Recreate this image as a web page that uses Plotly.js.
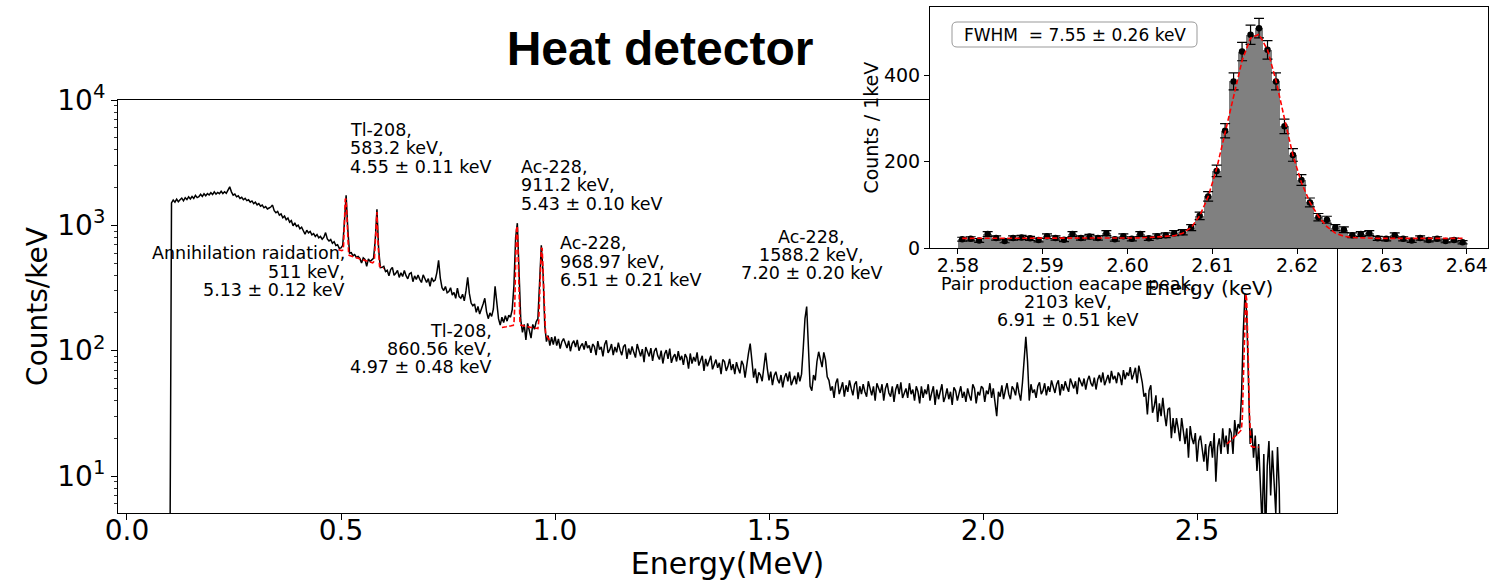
<!DOCTYPE html>
<html><head><meta charset="utf-8">
<script src="https://cdn.plot.ly/plotly-3.0.1.min.js"></script>
<style>html,body{margin:0;padding:0;background:#fff;}#chart{width:1496px;height:581px;}</style>
</head><body><div id="chart"></div>
<script>
// ---------------- DATA ----------------
// Main spectrum: counts/keV in 4 keV steps, starting at 0.100 MeV
const specStartMeV = 0.100, specStepMeV = 0.004;
const spec100to596 = [
1,1510,1590,1530,1620,1545,1600,1650,1570,1660,
1605,1690,1625,1700,1640,1735,1665,1690,1770,1700,
1785,1720,1790,1745,1820,1760,1850,1775,1830,1790,
1870,1795,1855,1800,1910,2030,1850,1740,1775,1690,
1720,1640,1675,1600,1640,1575,1600,1530,1565,1490,
1530,1455,1490,1420,1450,1380,1410,1350,1375,1400,
1450,1310,1260,1290,1205,1235,1150,1185,1110,1145,
1060,1090,990,1045,980,1005,940,965,905,850,
915,870,895,840,860,815,845,795,815,775,
805,875,780,750,770,720,740,690,700,655,
660,690,1060,1740,920,600,605,570,585,555,
565,545,500,550,535,470,540,515,530,545,
760,1343,640,460,462];
const spec600to1096 = [
471,428,438,396,444,462,400,414,437,384,
418,391,436,397,374,411,419,355,395,370,
401,371,350,403,375,350,376,326,382,357,
366,420,525,380,318,302,325,290,296,318,
278,292,262,315,270,262,282,250,300,384,
285,240,228,236,202,225,196,212,236,262,
205,180,200,188,215,326,245,180,160,185,
168,190,172,192,185,212,330,800,1040,452,
176,140,162,122,165,145,126,162,148,170,
180,352,692,422,160,118,132,110,128,112,
130,110,124,104,118,125,112,105,120,99,
114,120,107,122,100,109,114,102,119,105,
110,96,113,108,92];
const spec1100to1596 = [
119,102,107,90,112,121,96,102,113,92,
107,97,116,101,92,108,112,86,104,93,
108,97,88,113,99,90,103,81,107,97,
90,105,83,99,105,91,85,100,79,94,
101,86,104,80,89,94,82,99,84,91,
77,94,88,72,95,79,89,82,97,76,
83,91,69,86,75,82,91,71,77,85,
73,80,65,85,82,69,75,86,70,78,
65,81,72,66,83,77,61,80,95,114,
80,61,72,55,67,64,57,78,96,72,
58,68,53,63,68,59,55,64,51,61,
66,57,68,53,58,63,54,67,57,65,
105,180,225,118,52];
const spec1600to2096 = [
48,64,58,82,98,84,74,97,84,62,
58,48,52,42,55,60,45,50,56,43,
53,47,58,50,44,54,57,41,52,45,
54,47,43,57,49,44,52,40,55,49,
46,54,40,50,55,46,43,52,39,49,
54,45,56,42,47,50,42,55,45,49,
40,52,47,38,52,42,49,45,54,40,
46,52,37,49,41,46,54,39,43,50,
41,47,37,51,48,40,45,52,42,47,
39,50,44,40,54,50,38,47,44,52,
50,39,48,45,55,42,50,39,30,47,
43,53,41,48,55,45,41,52,49,44,
56,46,40,55,80];
const spec2100to2696 = [
129,82,40,54,46,49,42,52,56,45,
48,55,44,52,47,58,50,46,54,58,
44,54,48,57,51,47,60,55,50,57,
45,61,55,52,60,49,58,63,55,52,
61,49,59,64,56,67,53,59,64,55,
69,59,63,55,67,63,53,70,59,67,
63,74,59,65,73,55,76,66,56,43,
46,31,48,53,32,36,44,27,38,30,
42,31,25,34,35,20,29,22,29,24,
19,29,23,18,24,14,25,20,18,22,
13,19,21,16,13,18,11,17,19,14,
22,9,17,20,15,24,17,21,15,24,
22,15,28,21,26,24,45,140,286,200,
60,18,24,14,21,11,18,9,4,15,
3,12,19,7,16,9,5,17,8,1];

// Red fit curves on the main spectrum (2 keV steps)
const fit511StartMeV = 0.494, fit911StartMeV = 0.876, fit2614StartMeV = 2.570, fitStepMeV = 0.002;
const fit511and583 = [
640,636,633,630,628,635,690,1050,1630,1610,
1000,650,582,575,572,569,566,563,560,557,
554,551,548,545,542,539,536,533,530,527,
524,521,518,515,512,509,506,504,502,500,
502,510,530,720,1200,1275,775,512,472,468,
464,460,456,452];
const fit911and969 = [
153,153,154,154,155,155,156,156,157,157,
158,158,159,159,162,229,496,928,989,580,
260,172,160,159,158,158,157,157,156,156,
155,155,154,154,153,153,152,152,151,151,
151,150,150,172,258,455,660,652,440,245,
158,136,132,128,125,122,120,118];
const fit2614 = [
18,18.3,18.6,18.9,19.2,19.5,19.8,20.1,20.4,20.7,
21,21.3,21.6,21.9,22.2,22.5,23,24,30,55,
119,216,283,256,164,78,34,20,17.5,17.2,
17,17,17,17,17,17,17,17];

// Inset: counts per 1 keV bin, bins centred from 2.5805 in 0.001 steps
const insetStart = 2.5805, insetStep = 0.001;
const insetCounts = [
21,22,18,33,24,17,24,25,23,19,
28,24,20,33,24,27,24,35,21,28,
22,33,23,28,30,35,37,48,75,120,
179,272,386,455,494,509,459,386,282,216,
158,106,72,66,48,43,30,33,35,23,
22,30,22,18,24,19,22,17,19,14];
const insetFit = [
23,23,23,23,23,23,23,23,23,23,
23,23,23,23,23,23,23,23,23,23,
24,24,25,26,27,29,35,48,75,119,
184,266,355,434,486,495,459,388,300,215,
152,106,74,50,35,28,25,24,23,23,
23,23,23,23,23,23,23,23,23,23];

// Tick labels
const mainXTicks = [0, 0.5, 1.0, 1.5, 2.0, 2.5];
const mainXTickText = ['0.0','0.5','1.0','1.5','2.0','2.5'];
const mainYTicks = [10, 100, 1000, 10000];
const mainYTickText = ['10<sup>1</sup>','10<sup>2</sup>','10<sup>3</sup>','10<sup>4</sup>'];
const mainYMinor = [6,7,8,9,20,30,40,50,60,70,80,90,200,300,400,500,600,700,800,900,2000,3000,4000,5000,6000,7000,8000,9000];
const insetXTicks = [2.58,2.59,2.60,2.61,2.62,2.63,2.64];
const insetXTickText = ['2.58','2.59','2.60','2.61','2.62','2.63','2.64'];
const insetYTicks = [0,200,400];

// Peak labels (text lines)
const labels583 = ['Tl-208,','583.2 keV,','4.55 ± 0.11 keV'];
const labels511 = ['Annihilation raidation,','511 keV,','5.13 ± 0.12 keV'];
const labels911 = ['Ac-228,','911.2 keV,','5.43 ± 0.10 keV'];
const labels969 = ['Ac-228,','968.97 keV,','6.51 ± 0.21 keV'];
const labels860 = ['Tl-208,','860.56 keV,','4.97 ± 0.48 keV'];
const labels1588 = ['Ac-228,','1588.2 keV,','7.20 ± 0.20 keV'];
const labels2103 = ['Pair production eacape peak,','2103 keV,','6.91 ± 0.51 keV'];
const fwhmText = 'FWHM\u00a0\u00a0= 7.55 ± 0.26 keV';

// ---------------- CHART ----------------
const W = 1496, H = 581;
const PX = x => x / W, PY = y => 1 - y / H;
const FONT = 'DejaVu Sans';

const spectrum = [].concat(spec100to596, spec600to1096, spec1100to1596, spec1600to2096, spec2100to2696);
const redDash = {color:'#ff0000', width:1.6, dash:'5px,2.5px'};

const traces = [
  {type:'scatter', mode:'lines', x0:specStartMeV, dx:specStepMeV, y:spectrum,
   line:{color:'#000', width:1.5}, xaxis:'x', yaxis:'y', hoverinfo:'skip'},
  {type:'scatter', mode:'lines', x0:fit511StartMeV, dx:fitStepMeV, y:fit511and583, line:redDash, xaxis:'x', yaxis:'y'},
  {type:'scatter', mode:'lines', x0:fit911StartMeV, dx:fitStepMeV, y:fit911and969, line:redDash, xaxis:'x', yaxis:'y'},
  {type:'scatter', mode:'lines', x0:fit2614StartMeV, dx:fitStepMeV, y:fit2614, line:redDash, xaxis:'x', yaxis:'y'},
  // inset
  {type:'bar', x0:insetStart, dx:insetStep, y:insetCounts, width:insetStep,
   marker:{color:'#808080', line:{width:0}}, xaxis:'x2', yaxis:'y2'},
  {type:'scatter', mode:'markers', x0:insetStart, dx:insetStep, y:insetCounts,
   marker:{color:'#000', size:6.5},
   error_y:{type:'sqrt', visible:true, color:'#000', thickness:1.2, width:5},
   xaxis:'x2', yaxis:'y2'},
  {type:'scatter', mode:'lines', x0:insetStart, dx:insetStep, y:insetFit, line:{color:'#ff0000', width:1.6, dash:'5px,2.5px'}, xaxis:'x2', yaxis:'y2'}
];

const annotations = [];
function addLines(lines, x, ys, anchor) {
  lines.forEach((t, i) => annotations.push({
    xref:'paper', yref:'paper', x:PX(x), y:PY(ys[i]), text:t, showarrow:false,
    xanchor:anchor, yanchor:'middle', font:{family:FONT, size:17.5, color:'#000'}
  }));
}
addLines(labels583, 348, [130,148,167], 'left');
addLines(labels511, 347, [253,272,290], 'right');
addLines(labels911, 519, [167,185,204], 'left');
addLines(labels969, 558, [243,262,280], 'left');
addLines(labels860, 494, [331,349,367], 'right');
addLines(labels1588, 812, [237,255,273], 'center');
addLines(labels2103, 1068, [284,302,320], 'center');
annotations.push({xref:'paper', yref:'paper', x:PX(1074.5), y:PY(34.5), text:fwhmText, showarrow:false,
  xanchor:'center', yanchor:'middle', font:{family:FONT, size:17, color:'#000'}});

// rounded legend-like box around the FWHM text
function roundedBox(x0, y0, x1, y1, r) {
  const X = PX, Y = PY;
  return 'M' + X(x0 + r) + ',' + Y(y0) + ' L' + X(x1 - r) + ',' + Y(y0) +
    ' Q' + X(x1) + ',' + Y(y0) + ' ' + X(x1) + ',' + Y(y0 + r) +
    ' L' + X(x1) + ',' + Y(y1 - r) + ' Q' + X(x1) + ',' + Y(y1) + ' ' + X(x1 - r) + ',' + Y(y1) +
    ' L' + X(x0 + r) + ',' + Y(y1) + ' Q' + X(x0) + ',' + Y(y1) + ' ' + X(x0) + ',' + Y(y1 - r) +
    ' L' + X(x0) + ',' + Y(y0 + r) + ' Q' + X(x0) + ',' + Y(y0) + ' ' + X(x0 + r) + ',' + Y(y0) + ' Z';
}
const shapes = [{type:'path', xref:'paper', yref:'paper', path:roundedBox(952, 22, 1197, 47, 5),
  fillcolor:'#fff', line:{color:'#999', width:1}, layer:'above'}];

const axBase = {showline:true, mirror:true, linecolor:'#000', linewidth:1, ticks:'outside', tickcolor:'#000',
  tickwidth:1, showgrid:false, zeroline:false, automargin:false};

const layout = {
  width:W, height:H, margin:{l:0, r:0, t:0, b:0}, showlegend:false,
  paper_bgcolor:'#fff', plot_bgcolor:'#fff', barmode:'overlay', bargap:0,
  font:{family:FONT, color:'#000'},
  title:{text:'Heat detector', font:{family:'Liberation Sans', size:48, weight:700, color:'#000'},
         x:PX(660), xanchor:'center', xref:'paper', y:PY(48), yanchor:'middle', yref:'container'},
  xaxis:Object.assign({}, axBase, {domain:[PX(118), PX(1337)], range:[-0.021, 2.827], anchor:'y',
    ticklen:6, tickmode:'array', tickvals:mainXTicks, ticktext:mainXTickText, tickfont:{size:28, family:FONT},
    ticklabelstandoff:-14,
    title:{text:'Energy(MeV)', font:{size:30, family:FONT}, standoff:20}}),
  yaxis:Object.assign({}, axBase, {domain:[PY(513), PY(100)], type:'log', range:[Math.log10(5.07), 4], anchor:'x',
    ticklen:6, tickmode:'array', tickvals:mainYTicks, ticktext:mainYTickText, tickfont:{size:28, family:FONT},
    minor:{tickmode:'array', tickvals:mainYMinor, ticks:'outside', ticklen:3.5, tickcolor:'#000', tickwidth:0.8, showgrid:false},
    title:{text:'Counts/keV', font:{size:28, family:FONT}, standoff:1}}),
  xaxis2:Object.assign({}, axBase, {domain:[PX(930), PX(1488)], range:[2.5767, 2.6425], anchor:'y2',
    ticklen:5, tickmode:'array', tickvals:insetXTicks, ticktext:insetXTickText, tickfont:{size:19, family:FONT},
    ticklabelstandoff:-5,
    title:{text:'Energy (keV)', font:{size:20, family:FONT}, standoff:0}}),
  yaxis2:Object.assign({}, axBase, {domain:[PY(248.3), PY(7)], range:[0, 558], anchor:'x2',
    ticklen:5, tickmode:'array', tickvals:insetYTicks, tickfont:{size:19, family:FONT},
    title:{text:'Counts / 1keV', font:{size:19, family:FONT}, standoff:0}}),
  annotations:annotations,
  shapes:shapes
};

Plotly.newPlot('chart', traces, layout, {staticPlot:true, displayModeBar:false});
</script></body></html>
